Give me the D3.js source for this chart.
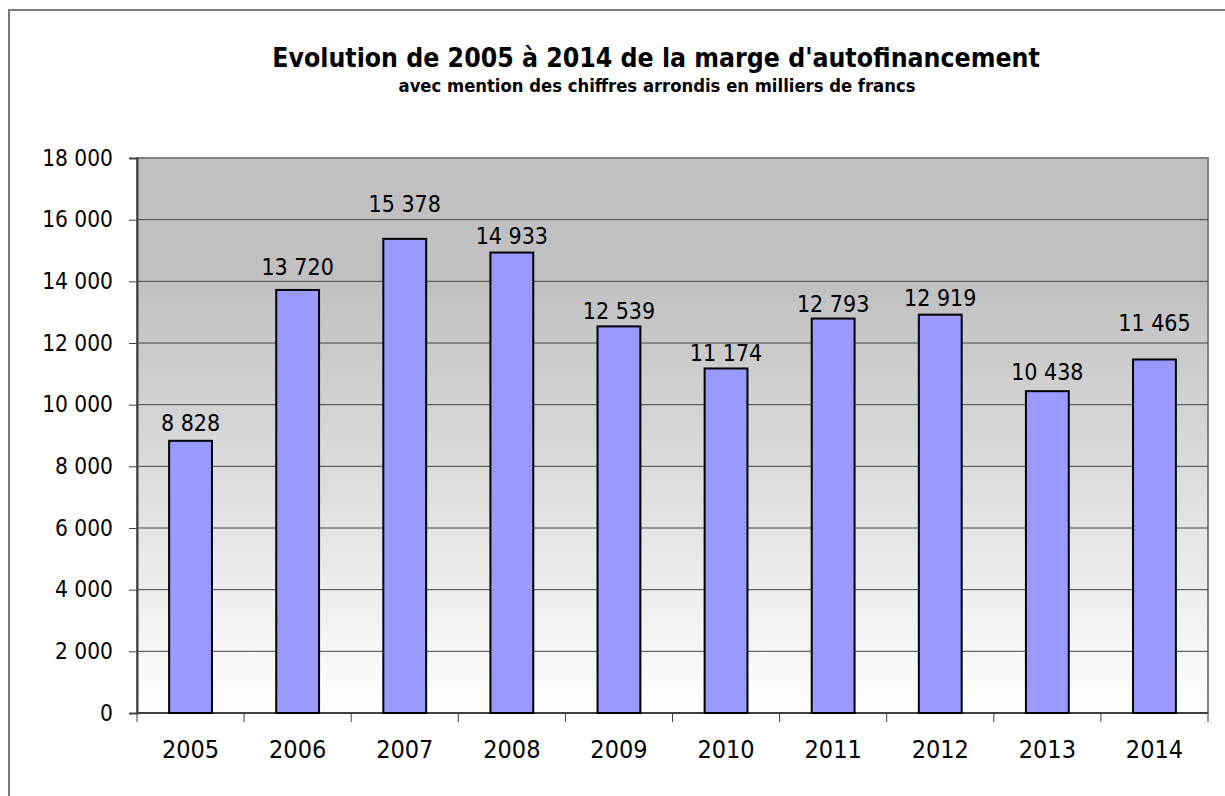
<!DOCTYPE html>
<html>
<head>
<meta charset="utf-8">
<script src="https://cdn.jsdelivr.net/npm/d3@7"></script>
<style>
  body { margin: 0; background: #fff; }
  svg text { font-family: "DejaVu Sans Condensed", "DejaVu Sans", sans-serif; fill: #000; }
</style>
</head>
<body>
<svg id="chart" width="1225" height="796"></svg>
<script>
const years = ['2005', '2006', '2007', '2008', '2009', '2010', '2011', '2012', '2013', '2014']
const values = [8828, 13720, 15378, 14933, 12539, 11174, 12793, 12919, 10438, 11465]
const yTicks = [0, 2000, 4000, 6000, 8000, 10000, 12000, 14000, 16000, 18000]
const title = "Evolution de 2005 à 2014 de la marge d'autofinancement"
const subtitle = "avec mention des chiffres arrondis en milliers de francs"

const W = 1225, H = 796
const plot = { left: 137, right: 1208, top: 158, bottom: 713 }
// labels were nudged by hand in the original, gap in px above each bar
const labelGap = [10, 15, 27, 9, 7, 7, 7, 9, 11, 28]

// numbers like "13 720"
const fmt = d => d3.format(',')(d).replace(/,/g, ' ')

const svg = d3.select('#chart')

// outer frame (right/bottom run off the picture)
svg.append('rect')
  .attr('x', 9).attr('y', 10)
  .attr('width', W).attr('height', H)
  .attr('fill', '#fff')
  .attr('stroke', '#7a7a7a')
  .attr('stroke-width', 2)

const defs = svg.append('defs')
const grad = defs.append('linearGradient')
  .attr('id', 'bg').attr('x1', 0).attr('y1', 0).attr('x2', 0).attr('y2', 1)
grad.append('stop').attr('offset', '0%').attr('stop-color', '#c0c0c0')
grad.append('stop').attr('offset', '22%').attr('stop-color', '#c0c0c0')
grad.append('stop').attr('offset', '100%').attr('stop-color', '#ffffff')

svg.append('text')
  .attr('x', 656).attr('y', 67)
  .attr('text-anchor', 'middle')
  .attr('font-weight', 'bold')
  .attr('font-size', 26.4)
  .text(title)

svg.append('text')
  .attr('x', 657).attr('y', 92)
  .attr('text-anchor', 'middle')
  .attr('font-weight', 'bold')
  .attr('font-size', 18.3)
  .text(subtitle)

const x = d3.scaleBand().domain(years).range([plot.left, plot.right]).padding(0)
const y = d3.scaleLinear().domain([0, 18000]).range([plot.bottom, plot.top])

// plot area background
svg.append('rect')
  .attr('x', plot.left).attr('y', plot.top)
  .attr('width', plot.right - plot.left).attr('height', plot.bottom - plot.top)
  .attr('fill', 'url(#bg)')
  .attr('stroke', '#808080')
  .attr('stroke-width', 2)

// gridlines
svg.append('g')
  .selectAll('line')
  .data(yTicks.filter(d => d > 0 && d < 18000))
  .join('line')
  .attr('x1', plot.left).attr('x2', plot.right)
  .attr('y1', d => y(d)).attr('y2', d => y(d))
  .attr('stroke', '#444')
  .attr('stroke-width', 1)

// y axis
const yAxis = d3.axisLeft(y).tickValues(yTicks).tickFormat(fmt).tickSize(8).tickPadding(16)
const gy = svg.append('g')
  .attr('transform', `translate(${plot.left},0)`)
  .call(yAxis)
gy.select('.domain').attr('stroke', '#404040').attr('stroke-width', 2)
gy.selectAll('.tick line').attr('stroke', '#404040')
gy.selectAll('.tick text').attr('font-size', 22.5).style('font-family', '"DejaVu Sans Condensed", "DejaVu Sans", sans-serif')

// x axis: ticks on the category edges
const edges = years.map(d => x(d)).concat([plot.right])
const gx = svg.append('g')
gx.append('line')
  .attr('x1', plot.left).attr('x2', plot.right)
  .attr('y1', plot.bottom).attr('y2', plot.bottom)
  .attr('stroke', '#404040').attr('stroke-width', 2)
gx.selectAll('line.tk')
  .data(edges)
  .join('line')
  .attr('class', 'tk')
  .attr('x1', d => d).attr('x2', d => d)
  .attr('y1', plot.bottom).attr('y2', plot.bottom + 9)
  .attr('stroke', '#404040')
gx.selectAll('text')
  .data(years)
  .join('text')
  .attr('x', d => x(d) + x.bandwidth() / 2)
  .attr('y', 758)
  .attr('text-anchor', 'middle')
  .attr('font-size', 25)
  .text(d => d)

// bars
const barW = x.bandwidth() * 0.4
svg.append('g')
  .selectAll('rect')
  .data(values)
  .join('rect')
  .attr('x', (d, i) => x(years[i]) + (x.bandwidth() - barW) / 2)
  .attr('y', d => y(d))
  .attr('width', barW)
  .attr('height', d => y(0) - y(d))
  .attr('fill', '#9999ff')
  .attr('stroke', '#000')
  .attr('stroke-width', 2)

// value labels
svg.append('g')
  .selectAll('text')
  .data(values)
  .join('text')
  .attr('x', (d, i) => x(years[i]) + x.bandwidth() / 2)
  .attr('y', (d, i) => y(d) - labelGap[i])
  .attr('text-anchor', 'middle')
  .attr('font-size', 23)
  .text(d => fmt(d))
</script>
</body>
</html>
